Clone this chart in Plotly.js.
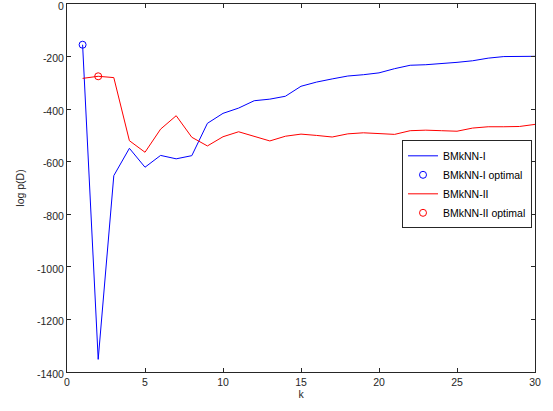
<!DOCTYPE html>
<html>
<head>
<meta charset="utf-8">
<script src="https://cdn.plot.ly/plotly-3.0.1.min.js"></script>
<style>html,body{margin:0;padding:0;background:#fff;}#chart{width:553px;height:411px;}</style>
</head>
<body>
<div id="chart"></div>
<script>
var k = [1,2,3,4,5,6,7,8,9,10,11,12,13,14,15,16,17,18,19,20,21,22,23,24,25,26,27,28,29,30];
var bmknn1 = [-155,-1352,-653,-549,-621,-576,-589,-577,-454,-416,-396,-368,-362,-351,-313,-297,-285,-274,-269,-262,-246,-233,-231,-227,-222,-216,-206,-200,-199,-199];
var bmknn2 = [-283,-275,-280,-520,-564,-476,-425,-507,-540,-505,-486,-504,-521,-503,-495,-500,-506,-494,-490,-493,-496,-482,-480,-482,-484,-472,-467,-467,-466,-458];
var xTicks = [0,5,10,15,20,25,30];
var yTicks = [0,-200,-400,-600,-800,-1000,-1200,-1400];

function argmax(a){var b=0;for(var i=1;i<a.length;i++){if(a[i]>a[b])b=i;}return b;}
var i1 = argmax(bmknn1), i2 = argmax(bmknn2);

var font = {family: 'Liberation Sans, Arial, sans-serif', size: 10.5, color: '#262626'};

var traces = [
  {x: k, y: bmknn1, type: 'scatter', mode: 'lines', name: 'BMkNN-I',
   line: {color: '#0000ff', width: 1}},
  {x: [k[i1]], y: [bmknn1[i1]], type: 'scatter', mode: 'markers', name: 'BMkNN-I optimal',
   marker: {symbol: 'circle-open', size: 7, color: '#0000ff', line: {width: 1, color: '#0000ff'}}},
  {x: k, y: bmknn2, type: 'scatter', mode: 'lines', name: 'BMkNN-II',
   line: {color: '#ff0000', width: 1}},
  {x: [k[i2]], y: [bmknn2[i2]], type: 'scatter', mode: 'markers', name: 'BMkNN-II optimal',
   marker: {symbol: 'circle-open', size: 7, color: '#ff0000', line: {width: 1, color: '#ff0000'}}}
];

var layout = {
  width: 553, height: 411,
  margin: {l: 67, r: 18, t: 4, b: 38.5, pad: 0},
  paper_bgcolor: '#ffffff', plot_bgcolor: '#ffffff',
  font: font,
  showlegend: true,
  legend: {x: 0.9936, y: 0.51, xanchor: 'right', yanchor: 'middle',
    bgcolor: '#ffffff', bordercolor: '#262626', borderwidth: 1,
    font: {family: font.family, size: 10.5, color: '#000000'},
    tracegroupgap: 0, itemwidth: 30},
  xaxis: {range: [0, 30], tickvals: xTicks, ticktext: xTicks.map(String),
    showgrid: false, zeroline: false, showline: true, linecolor: '#262626', linewidth: 1,
    mirror: 'ticks', ticks: 'inside', ticklen: 4, tickcolor: '#262626',
    tickfont: font, ticklabeloverflow: 'allow', title: {text: 'k', font: font, standoff: 3}},
  yaxis: {range: [-1400, 0], tickvals: yTicks, ticktext: yTicks.map(String),
    showgrid: false, zeroline: false, showline: true, linecolor: '#262626', linewidth: 1,
    mirror: 'ticks', ticks: 'inside', ticklen: 4, tickcolor: '#262626',
    tickfont: font, ticklabeloverflow: 'allow', ticklabelshift: 2,
    title: {text: 'log p(D)', font: font, standoff: 10}}
};

Plotly.newPlot('chart', traces, layout, {displayModeBar: false, staticPlot: true});
</script>
</body>
</html>
